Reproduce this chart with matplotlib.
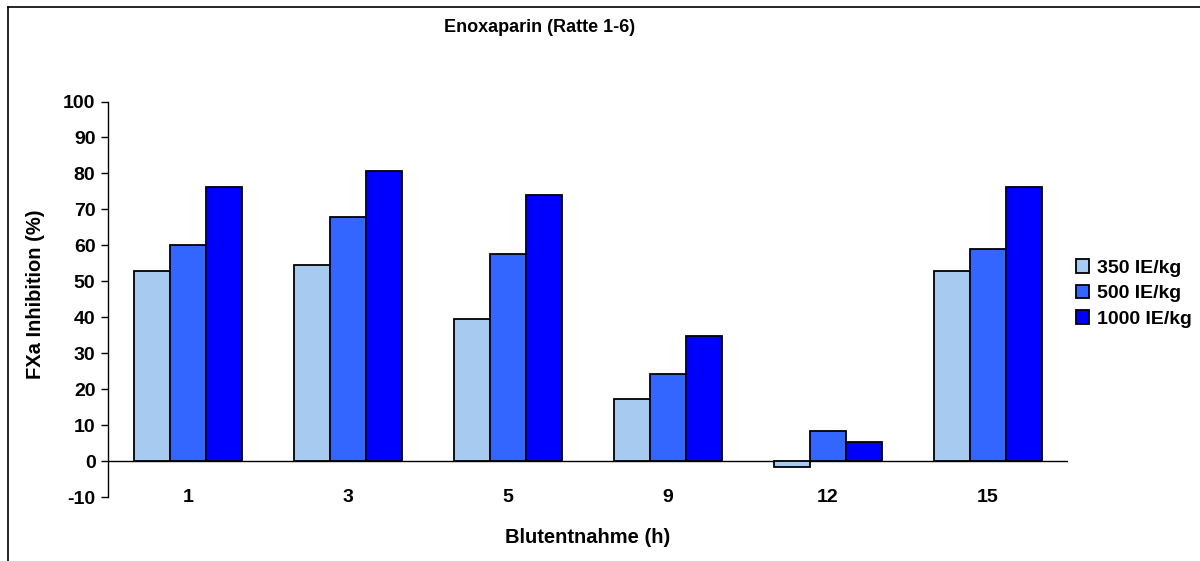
import numpy as np
import matplotlib.pyplot as plt
from matplotlib.lines import Line2D

plt.rcParams['font.family'] = ['Liberation Sans', 'DejaVu Sans']
plt.rcParams['font.weight'] = 'bold'
plt.rcParams['axes.unicode_minus'] = False

# Blood sampling times (h) and FXa inhibition per dose
times = ['1', '3', '5', '9', '12', '15']
dose_labels = ['350 IE/kg', '500 IE/kg', '1000 IE/kg']
inh_350 = [52.9, 54.4, 39.4, 17.2, -1.6, 52.8]
inh_500 = [60.2, 68.0, 57.5, 24.2, 8.4, 59.1]
inh_1000 = [76.3, 80.6, 74.1, 34.9, 5.2, 76.3]
colors = ['#A6CAF0', '#3366FF', '#0000FF']

fig = plt.figure(figsize=(12, 5.61), dpi=100)
ax = fig.add_axes([0.09, 0.114, 0.80, 0.705])

x = np.arange(len(times))
w = 0.225
for i, (vals, lab, col) in enumerate(zip([inh_350, inh_500, inh_1000], dose_labels, colors)):
    ax.bar(x + (i - 1) * w, vals, width=w, color=col, edgecolor='black',
           linewidth=1.3, label=lab, zorder=3)

ax.set_xlim(-0.5, len(times) - 0.5)
ax.set_ylim(-10, 100)
ax.set_yticks(range(-10, 101, 10))
ax.axhline(0, color='black', linewidth=1.0, zorder=2)

for s in ['top', 'right', 'bottom']:
    ax.spines[s].set_visible(False)
ax.spines['left'].set_linewidth(1.0)
ax.tick_params(axis='y', direction='out', length=5, width=1, labelsize=14, pad=4)
ax.set_xticks(x)
ax.set_xticklabels(times)
ax.tick_params(axis='x', length=0, labelsize=14, pad=-6)

ax.set_ylabel('FXa Inhibition (%)', fontsize=14.5, fontweight='bold')
ax.yaxis.set_label_coords(-0.066, 0.514)
ax.set_xlabel('Blutentnahme (h)', fontsize=14.5, fontweight='bold', labelpad=16)
fig.text(0.45, 0.951, 'Enoxaparin (Ratte 1-6)', ha='center', va='center',
         fontsize=13, fontweight='bold')

ax.legend(loc='center left', bbox_to_anchor=(1.0, 0.515), frameon=False,
          fontsize=14, handlelength=0.7, handleheight=0.7, handletextpad=0.4,
          labelspacing=0.4, borderaxespad=0.0)

# outer chart frame (top and left edges)
fig.add_artist(Line2D([0.0067, 1.0], [0.9875, 0.9875], color='black', linewidth=1.2))
fig.add_artist(Line2D([0.0067, 0.0067], [0.0, 0.9875], color='black', linewidth=1.2))

fig.savefig('out.png', dpi=100)
